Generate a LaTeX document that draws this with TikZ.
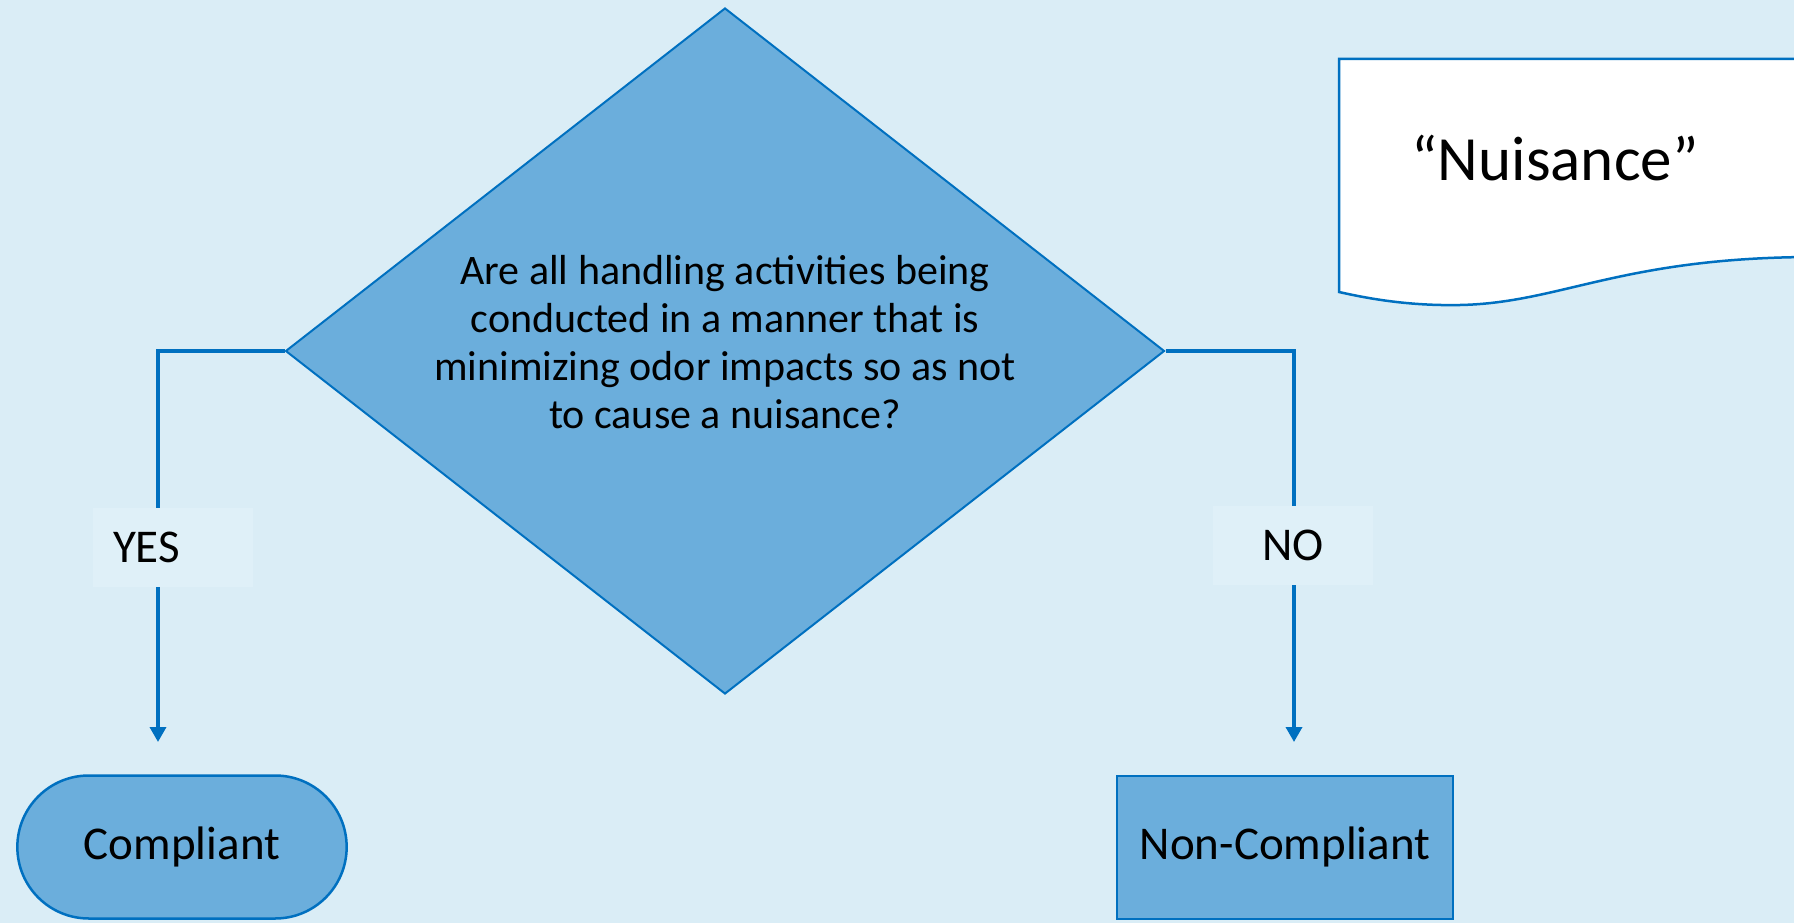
\documentclass[tikz,border=0pt]{standalone}
\usepackage{fontspec}
\setmainfont{Carlito}
\usetikzlibrary{shapes.geometric, shapes.misc, arrows.meta, positioning}
\definecolor{slidebg}{RGB}{218,237,246}
\definecolor{boxfill}{RGB}{107,174,220}
\definecolor{boxline}{RGB}{0,112,192}
\definecolor{tagfill}{RGB}{223,240,248}

\begin{document}
\begin{tikzpicture}[x=1pt, y=-1pt,
    decision/.style={diamond, draw=boxline, fill=boxfill, line width=2pt, aspect=1.28,
        minimum width=879pt, minimum height=686pt, inner sep=0pt, align=center,
        text depth=18pt, font=\fontsize{42}{48}\selectfont},
    terminal/.style={rounded rectangle, draw=boxline, fill=boxfill, line width=2.5pt,
        minimum width=336pt, minimum height=143pt, font=\fontsize{47}{56}\selectfont},
    outcome/.style={rectangle, draw=boxline, fill=boxfill, line width=2pt,
        minimum width=336pt, minimum height=143pt, font=\fontsize{47}{56}\selectfont},
    answer/.style={fill=tagfill, minimum height=79pt, text width=120pt, inner xsep=20pt,
        font=\fontsize{47}{56}\selectfont},
    flowline/.style={draw=boxline, line width=3.5pt, -{Triangle[width=16pt,length=15pt]}}]

    % Background
    \useasboundingbox (0,0) rectangle (1794,923);
    \fill[slidebg] (0,0) rectangle (1794,923);

    % Definition note
    \draw[fill=white, draw=boxline, line width=2.5pt] (1339,59) -- (1810,59) -- (1810,257)
        .. controls (1620,258) and (1560,303) .. (1460,305)
        .. controls (1410,306) and (1370,299) .. (1339,292) -- cycle;
    \node[anchor=base, font=\fontsize{63}{76}\selectfont] (nuisance) at (1555,181) {``Nuisance''};

    % Question
    \node[decision] (question) at (725,351) {Are all handling activities being\\conducted in a manner that is\\minimizing odor impacts so as not\\to cause a nuisance?};

    % Outcomes
    \node[terminal] (compliant) at (182,847) {Compliant};
    \node[outcome] (noncompliant) at (1285,847) {Non-Compliant};

    % Branches
    \coordinate (yesend) at (158,742);
    \coordinate (noend) at (1294,742);
    \draw[flowline] (question.west) -| (yesend);
    \draw[flowline] (question.east) -| (noend);
    \node[answer, align=left] (yes) at (173,547) {YES};
    \node[answer, align=center] (no) at (1293,545) {NO};

\end{tikzpicture}
\end{document}
